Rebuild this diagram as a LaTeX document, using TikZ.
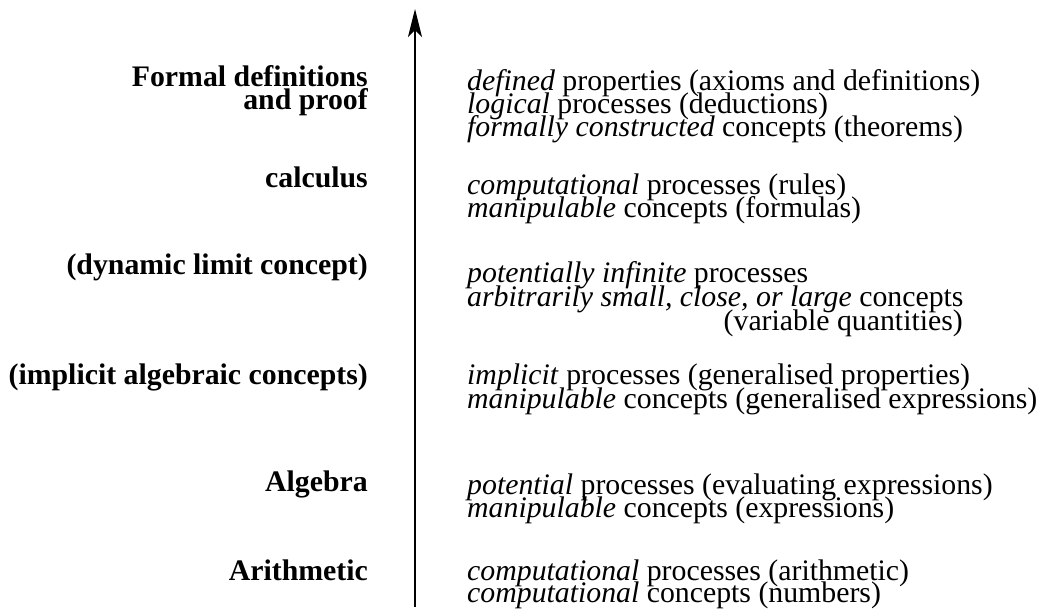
\documentclass[tikz,border=0pt]{standalone}
\usepackage{fontspec}
\setmainfont{Liberation Serif}
\usetikzlibrary{arrows.meta}
\begin{document}
\begin{tikzpicture}[x=1pt,y=-1pt,
  lbl/.style={anchor=base east,inner sep=0pt,font=\fontsize{29.8}{24}\selectfont\bfseries},
  txt/.style={anchor=base west,inner sep=0pt,font=\fontsize{29.8}{24}\selectfont},
  axis/.style={line width=1.6pt,-{Stealth[length=28pt,width=14pt,inset=7pt]}}]
\useasboundingbox (0,0) rectangle (1039,609);
\coordinate (abot) at (415,607);
\coordinate (atop) at (415,9);
\draw[axis] (abot) -- (atop);
% left labels
\node[lbl] (l1a) at (368,87) {Formal definitions};
\node[lbl] (l1b) at (368,110) {and proof};
\node[lbl] (l2) at (368,188) {calculus};
\node[lbl] (l3) at (368,275) {(dynamic limit concept)};
\node[lbl] (l4) at (368,385) {(implicit algebraic concepts)};
\node[lbl] (l5) at (368,491) {Algebra};
\node[lbl] (l6) at (368,580) {Arithmetic};
% right texts
\node[txt] (r1a) at (467,91) {\textit{defined} properties (axioms and definitions)};
\node[txt] (r1b) at (467,114) {\textit{logical} processes (deductions)};
\node[txt] (r1c) at (467,137) {\textit{formally constructed} concepts (theorems)};
\node[txt] (r2a) at (467,195) {\textit{computational} processes (rules)};
\node[txt] (r2b) at (467,218) {\textit{manipulable} concepts (formulas)};
\node[txt] (r3a) at (467,283) {\textit{potentially infinite} processes};
\node[txt] (r3b) at (467,307) {\textit{arbitrarily small, close, or large} concepts};
\node[txt,anchor=base east] (r3c) at (963,331) {(variable quantities)};
\node[txt] (r4a) at (467,385) {\textit{implicit} processes (generalised properties)};
\node[txt] (r4b) at (467,409) {\textit{manipulable} concepts (generalised expressions)};
\node[txt] (r5a) at (467,494) {\textit{potential} processes (evaluating expressions)};
\node[txt] (r5b) at (467,517) {\textit{manipulable} concepts (expressions)};
\node[txt] (r6a) at (467,580) {\textit{computational} processes (arithmetic)};
\node[txt] (r6b) at (467,602) {\textit{computational} concepts (numbers)};
\end{tikzpicture}
\end{document}
